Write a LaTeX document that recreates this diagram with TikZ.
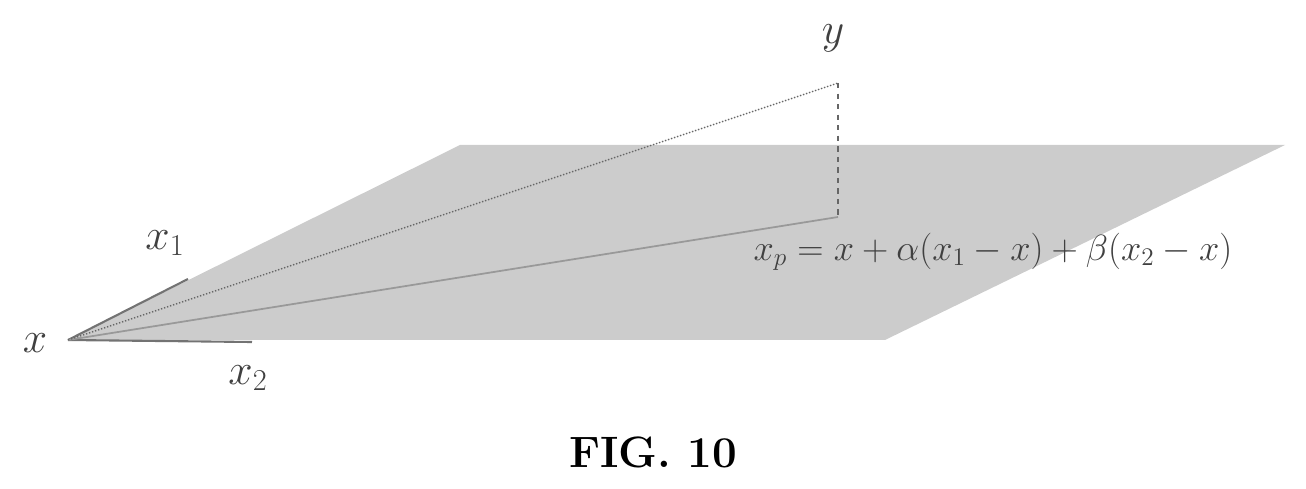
\documentclass[tikz,border=0pt]{standalone}
\usepackage{amsmath}
\begin{document}
\begin{tikzpicture}[x=0.02cm,y=-0.02cm,
  lbl/.style={font=\fontsize{26}{28}\selectfont, text=black!75},
  ray/.style={black!55, line width=1.2pt}]
\useasboundingbox (0,0) rectangle (1306,489);
% plane
\fill[black!20] (68,340) -- (460,145) -- (1285,145) -- (885,340) -- cycle;
% points
\coordinate (x) at (68,340);
\coordinate (x1) at (188,279);
\coordinate (x2) at (252,342);
\coordinate (xp) at (838,217);
\coordinate (y) at (838,83);
% rays in the plane
\draw[ray] (x) -- (x1);
\draw[ray] (x) -- (x2);
\draw[black!40, line width=1pt] (x) -- (xp);
% towards y
\draw[black!60, densely dotted, line width=0.8pt] (x) -- (y);
\draw[black!60, dashed, line width=1pt] (y) -- (xp);
% labels
\node[lbl] (xl) at (35,343) {$x$};
\node[lbl] (x1l) at (165,243) {$x_1$};
\node[lbl] (x2l) at (248,378) {$x_2$};
\node[lbl] (yl) at (833,38) {$y$};
\node[lbl, font=\fontsize{22}{24}\selectfont] (xpl) at (993,252) {$x_p = x + \alpha(x_1 - x) + \beta(x_2 - x)$};
\node[font=\fontsize{25}{28}\selectfont\bfseries] (cap) at (653,452) {FIG. 10};
\end{tikzpicture}
\end{document}
